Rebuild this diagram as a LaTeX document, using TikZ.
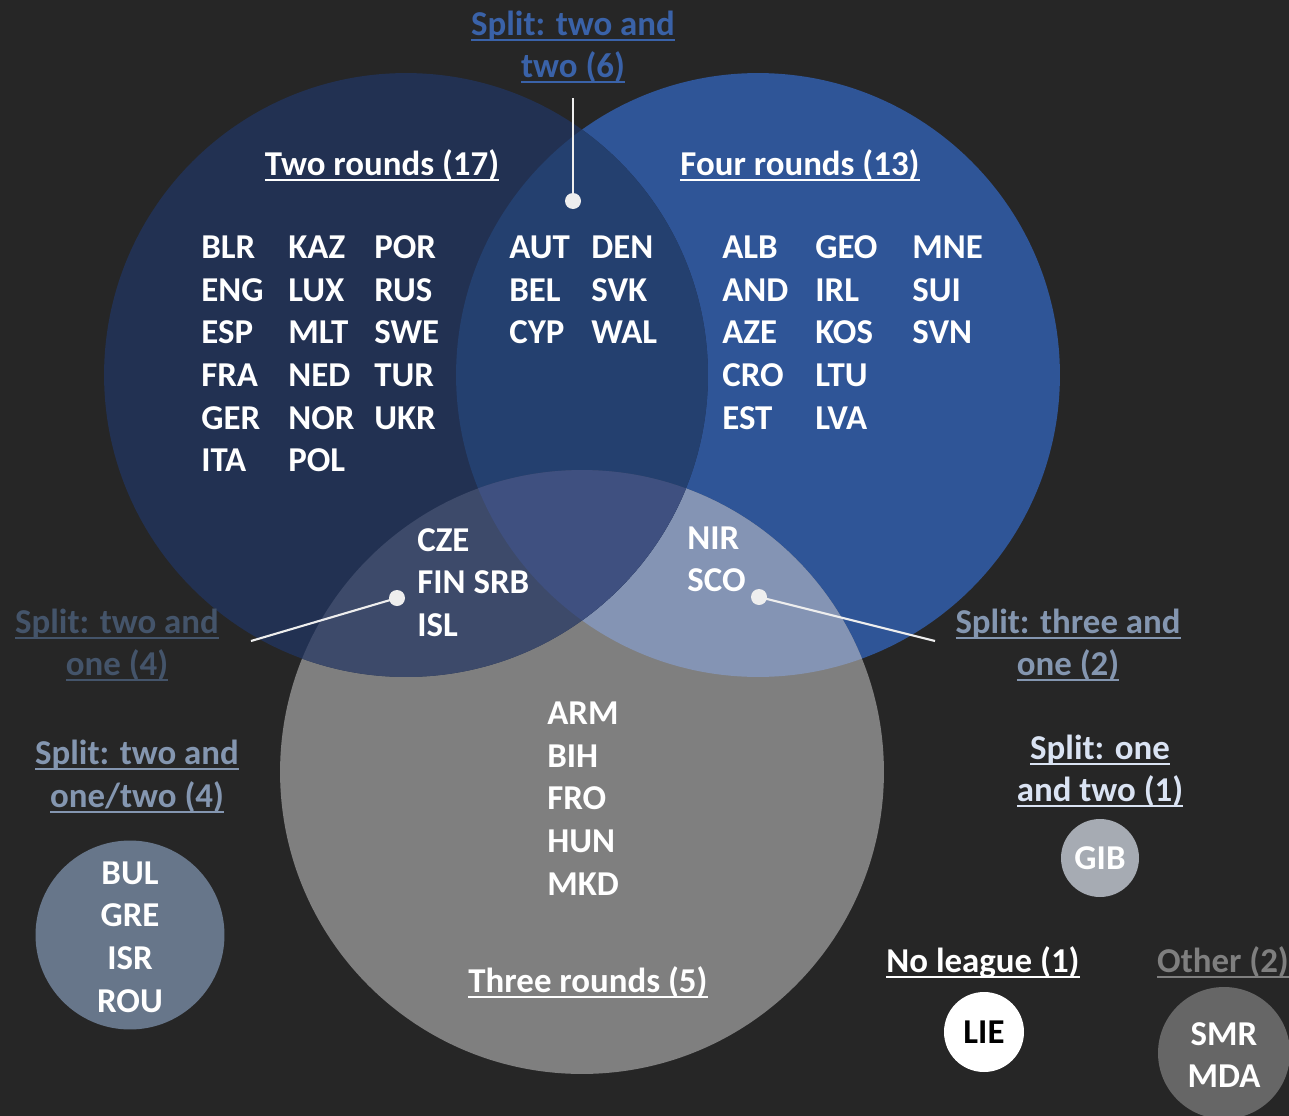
\documentclass[tikz,border=0pt]{standalone}
\usepackage{fontspec}
\setmainfont{Carlito}
\definecolor{bgc}{HTML}{262626}
\definecolor{leftc}{HTML}{223152}
\definecolor{rightc}{HTML}{2F5597}
\definecolor{grayc}{HTML}{7F7F7F}
\definecolor{lrc}{HTML}{24406F}
\definecolor{rgc}{HTML}{8494B4}
\definecolor{lgc}{HTML}{3D4A6A}
\definecolor{lrgc}{HTML}{3F5080}
\definecolor{bluelab}{HTML}{3A62A8}
\definecolor{slatelab}{HTML}{44546A}
\definecolor{steellab}{HTML}{8496B0}
\definecolor{palelab}{HTML}{DAE3F3}
\definecolor{bulc}{HTML}{67768A}
\definecolor{gibc}{HTML}{A6ABB3}
\definecolor{smrc}{HTML}{666666}
\definecolor{dotc}{HTML}{EEEEEE}
\newcommand\myul[1]{\setbox0\hbox{#1}\rlap{\rule[-0.17em]{\wd0}{0.06em}}\box0}
\tikzset{
  txt/.style={inner sep=0pt, font=\fontsize{19.85}{24.2}\selectfont\bfseries, text=white},
  cty/.style={txt, anchor=base west},
  ctc/.style={txt, anchor=base},
  lab/.style={txt, anchor=base},
  pin/.style={draw=dotc, line width=1.2pt},
  pindot/.style={fill=dotc, circle, inner sep=0pt, minimum size=0.32cm},
}
\begin{document}
\begin{tikzpicture}[x=0.02cm,y=-0.02cm]
\useasboundingbox (0,0) rectangle (1289,1116);
\fill[bgc] (0,0) rectangle (1289,1116);
\def\LC{(406,375) circle [radius=6.04cm]}
\def\RC{(758,375) circle [radius=6.04cm]}
\def\GC{(582,772) circle [radius=6.04cm]}
% Venn regions
\fill[rightc] \RC;
\fill[grayc] \GC;
\begin{scope}\clip \RC; \fill[rgc] \GC; \end{scope}
\fill[leftc] \LC;
\begin{scope}\clip \LC; \fill[lrc] \RC; \end{scope}
\begin{scope}\clip \LC; \fill[lgc] \GC; \end{scope}
\begin{scope}\clip \LC; \clip \RC; \fill[lrgc] \GC; \end{scope}

% headers
\node[lab] (h2) at (382,175) {\myul{Two rounds (17)}};
\node[lab] (h4) at (800,175) {\myul{Four rounds (13)}};
\node[lab] (h3) at (588,992) {\myul{Three rounds (5)}};

% split two and two
\node[lab, text=bluelab] (s22a) at (573,35) {\myul{Split: two and}};
\node[lab, text=bluelab] (s22b) at (573,77) {\myul{two (6)}};
\coordinate (p22top) at (573,98);
\node[pindot] (d22) at (573,201) {};
\draw[pin] (p22top) -- (d22.center);

% two rounds list
\node[cty] (blr) at (201,258) {BLR};
\node[cty] (eng) at (201,301) {ENG};
\node[cty] (esp) at (201,343) {ESP};
\node[cty] (fra) at (201,386) {FRA};
\node[cty] (ger) at (201,429) {GER};
\node[cty] (ita) at (201,471) {ITA};
\node[cty] (kaz) at (288,258) {KAZ};
\node[cty] (lux) at (288,301) {LUX};
\node[cty] (mlt) at (288,343) {MLT};
\node[cty] (ned) at (288,386) {NED};
\node[cty] (nor) at (288,429) {NOR};
\node[cty] (pol) at (288,471) {POL};
\node[cty] (por) at (374,258) {POR};
\node[cty] (rus) at (374,301) {RUS};
\node[cty] (swe) at (374,343) {SWE};
\node[cty] (tur) at (374,386) {TUR};
\node[cty] (ukr) at (374,429) {UKR};

% two and two list
\node[cty] (aut) at (509,258) {AUT};
\node[cty] (bel) at (509,301) {BEL};
\node[cty] (cyp) at (509,343) {CYP};
\node[cty] (den) at (591,258) {DEN};
\node[cty] (svk) at (591,301) {SVK};
\node[cty] (wal) at (591,343) {WAL};

% four rounds list
\node[cty] (alb) at (722,258) {ALB};
\node[cty] (and) at (722,301) {AND};
\node[cty] (aze) at (722,343) {AZE};
\node[cty] (cro) at (722,386) {CRO};
\node[cty] (est) at (722,429) {EST};
\node[cty] (geo) at (815,258) {GEO};
\node[cty] (irl) at (815,301) {IRL};
\node[cty] (kos) at (815,343) {KOS};
\node[cty] (ltu) at (815,386) {LTU};
\node[cty] (lva) at (815,429) {LVA};
\node[cty] (mne) at (912,258) {MNE};
\node[cty] (sui) at (912,301) {SUI};
\node[cty] (svn) at (912,343) {SVN};

% two and one
\node[cty] (cze) at (417,551) {CZE};
\node[cty] (fin) at (417,593) {FIN SRB};
\node[cty] (isl) at (417,636) {ISL};
\node[pindot] (d21) at (397,598) {};
\coordinate (p21end) at (251,641);
\draw[pin] (d21.center) -- (p21end);
\node[lab, text=slatelab] (s21a) at (117,633) {\myul{Split: two and}};
\node[lab, text=slatelab] (s21b) at (117,675) {\myul{one (4)}};

% three and one
\node[cty] (nir) at (687,549) {NIR};
\node[cty] (sco) at (687,591) {SCO};
\node[pindot] (d31) at (759,597) {};
\coordinate (p31end) at (935,641);
\draw[pin] (d31.center) -- (p31end);
\node[lab, text=steellab] (s31a) at (1068,633) {\myul{Split: three and}};
\node[lab, text=steellab] (s31b) at (1068,675) {\myul{one (2)}};

% three rounds list
\node[cty] (arm) at (547,724) {ARM};
\node[cty] (bih) at (547,767) {BIH};
\node[cty] (fro) at (547,809) {FRO};
\node[cty] (hun) at (547,852) {HUN};
\node[cty] (mkd) at (547,895) {MKD};

% two and one/two
\node[lab, text=steellab] (s212a) at (137,764) {\myul{Split: two and}};
\node[lab, text=steellab] (s212b) at (137,807) {\myul{one/two (4)}};
\fill[bulc] (130,935) circle [radius=1.89cm];
\node[ctc] (bul) at (130,884) {BUL};
\node[ctc] (gre) at (130,926) {GRE};
\node[ctc] (isr) at (130,969) {ISR};
\node[ctc] (rou) at (130,1012) {ROU};

% one and two
\node[lab, text=palelab] (s12a) at (1100,759) {\myul{Split: one}};
\node[lab, text=palelab] (s12b) at (1100,801) {\myul{and two (1)}};
\fill[gibc] (1100,858) circle [radius=0.78cm];
\node[ctc] (gib) at (1100,869) {GIB};

% no league
\node[lab] (nol) at (983,972) {\myul{No league (1)}};
\fill[white] (984,1032) circle [radius=0.8cm];
\node[ctc, text=black] (lie) at (984,1043) {LIE};

% other
\node[lab, text=grayc] (oth) at (1223,972) {\myul{Other (2)}};
\fill[smrc] (1224,1053) circle [radius=1.32cm];
\node[ctc] (smr) at (1224,1045) {SMR};
\node[ctc] (mda) at (1224,1087) {MDA};
\end{tikzpicture}
\end{document}
